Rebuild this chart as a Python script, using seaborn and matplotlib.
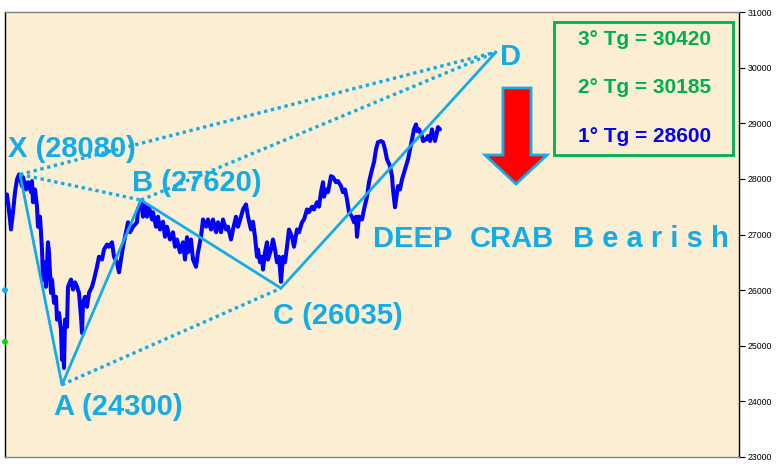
import matplotlib
matplotlib.use("Agg")
import matplotlib.pyplot as plt
import seaborn as sns
import pandas as pd
from matplotlib.patches import Polygon, Rectangle

# ---------------- data ----------------
days = [0, 2, 3, 5, 6, 8, 10, 12, 14, 17, 18, 21, 23, 26, 27, 28, 30, 32, 33, 35,
        37, 38, 39, 41, 43, 44, 46, 47, 49, 51, 52, 54, 56, 57, 58, 59, 60, 62, 63, 66,
        68, 70, 72, 74, 76, 77, 78, 80, 82, 84, 87, 89, 92, 94, 97, 99, 102, 104, 107, 109,
        112, 114, 116, 118, 121, 123, 125, 128, 132, 133, 136, 138, 140, 142, 144, 147, 148, 151, 153, 155,
        158, 160, 162, 165, 168, 170, 172, 175, 178, 180, 182, 183, 186, 188, 191, 193, 196, 198, 201, 203,
        206, 208, 211, 213, 216, 218, 221, 223, 226, 228, 231, 233, 236, 238, 241, 243, 246, 248, 250, 252,
        253, 255, 257, 258, 260, 262, 263, 266, 268, 270, 272, 274, 276, 278, 280, 282, 284, 287, 289, 292,
        294, 297, 299, 302, 304, 307, 309, 312, 314, 316, 318, 319, 321, 323, 326, 328, 331, 333, 336, 338,
        340, 342, 344, 347, 349, 351, 352, 354, 357, 359, 362, 364, 367, 369, 371, 373, 376, 378, 380, 382,
        385, 387, 388, 390, 392, 393, 395, 397, 398, 401, 403, 405, 407, 409, 411, 412, 414, 417, 418, 421,
        423, 425, 427, 428, 430, 432, 433, 435]
prices = [27630, 27720, 27580, 27270, 27090, 27400, 27760, 27990, 28080, 27870, 28030, 27810, 27940, 27760, 27960, 27580, 27810, 27500, 27140, 27320,
          26730, 26190, 26500, 26060, 26860, 26680, 25950, 26190, 25770, 25880, 25470, 25590, 25290, 24750, 24980, 24600, 25470, 25340, 26060, 26190,
          26010, 26140, 26060, 25950, 25520, 25230, 25770, 25880, 25700, 25950, 26060, 26190, 26420, 26600, 26550, 26730, 26820, 26780, 26860, 26600,
          26500, 26320, 26550, 26780, 27040, 27220, 27040, 27140, 27220, 27450, 27580, 27320, 27540, 27320, 27490, 27270, 27400, 27140, 27320, 27090,
          27230, 26960, 27140, 26910, 27040, 26780, 26910, 26680, 26860, 26550, 26950, 26680, 26910, 26550, 26420, 26680, 26960, 27270, 27140, 27270,
          27090, 27270, 27040, 27220, 27040, 27270, 27090, 27140, 26910, 27090, 27320, 27140, 27320, 27450, 27540, 27320, 27090, 27230, 26960, 26600,
          26730, 26500, 26600, 26370, 26680, 26860, 26550, 26730, 26910, 26730, 26500, 26600, 26150, 26600, 26500, 26780, 27090, 26960, 26780, 27090,
          27040, 27220, 27270, 27450, 27400, 27500, 27450, 27580, 27500, 27760, 27940, 27680, 27810, 27760, 28050, 28030, 27940, 27960, 27870, 27760,
          27810, 27630, 27400, 27320, 27220, 27320, 26960, 27320, 27270, 27450, 27680, 27940, 28170, 28300, 28530, 28660, 28680, 28660, 28530, 28350,
          28230, 28050, 27810, 27490, 27760, 27870, 27810, 27990, 28050, 28230, 28350, 28530, 28710, 28890, 28980, 28860, 28890, 28770, 28680, 28710,
          28770, 28680, 28890, 28800, 28680, 28840, 28930, 28890]

pattern_labels = ["X (28080)", "A (24300)", "B (27620)", "C (26035)", "D"]
pattern_days = [15, 57, 136, 276, 491]
pattern_values = [28080, 24300, 27620, 26035, 30280]

targets = ["3° Tg = 30420", "2° Tg = 30185", "1° Tg = 28600"]
title_words = ["DEEP", "CRAB", "B e a r i s h"]
yticks = [23000, 24000, 25000, 26000, 27000, 28000, 29000, 30000, 31000]
marker_values = [26000, 25070]

# ---------------- style ----------------
W, H = 778, 467
CYAN = "#12ACE8"
GREEN = "#00B050"
BLUE = "#0000FF"
BG = "#FCEED3"

sns.set_theme(style="white")
plt.rcParams["font.family"] = ["Liberation Sans", "DejaVu Sans"]

fig = plt.figure(figsize=(W / 100, H / 100), dpi=100)
fig.patch.set_facecolor("white")
ax = fig.add_axes([5 / W, 10 / H, 734 / W, 445 / H])
ax.set_facecolor(BG)

df = pd.DataFrame({"day": days, "price": prices})
sns.lineplot(data=df, x="day", y="price", ax=ax, color=BLUE, linewidth=2.9,
             estimator=None, sort=False, zorder=3)

# solid harmonic legs
pat = pd.DataFrame({"day": pattern_days, "value": pattern_values})
sns.lineplot(data=pat, x="day", y="value", ax=ax, color=CYAN, linewidth=2.0,
             estimator=None, sort=False, zorder=4)

# dotted connectors
pairs = [(0, 4), (0, 2), (2, 4), (1, 3)]
for i, j in pairs:
    ax.plot([pattern_days[i], pattern_days[j]], [pattern_values[i], pattern_values[j]],
            color=CYAN, linewidth=2.4, linestyle=(0, (1, 1.1)), zorder=4)

# labels
offsets = [(52, 25), (56, -22), (56, 17), (57, -28), (14, -5)]
for lab, d, v, off in zip(pattern_labels, pattern_days, pattern_values, offsets):
    ax.annotate(lab, (d, v), xytext=off, textcoords="offset pixels", ha="center",
                va="center", fontsize=21, fontweight="bold", color=CYAN, zorder=6)

ax.set_xlim(0, 734)
ax.set_ylim(23000, 31000)
ax.set_xticks([])
ax.set_xlabel("")
ax.set_ylabel("")
ax.yaxis.tick_right()
ax.set_yticks(yticks)
ax.set_yticklabels([str(t) for t in yticks])
ax.tick_params(axis="y", which="both", right=True, left=False, direction="out",
               length=4, width=0.8, color="black", labelsize=6.3, pad=2, labelcolor="black")
for s in ["top", "bottom"]:
    ax.spines[s].set_color("#808080")
    ax.spines[s].set_linewidth(1)
for s in ["left", "right"]:
    ax.spines[s].set_color("black")
    ax.spines[s].set_linewidth(1)
    ax.spines[s].set_visible(True)

# small markers on left axis
ax.scatter([0, 0], marker_values, c=[CYAN, "#00DD00"], s=18, clip_on=False, zorder=7,
           linewidths=0)


def px(x, y):
    return (x / W, 1 - y / H)


# target box
bx0, by0 = px(554, 155)
bx1, by1 = px(733, 22)
fig.patches.append(Rectangle((bx0, by0), bx1 - bx0, by1 - by0, transform=fig.transFigure,
                             fill=False, edgecolor=GREEN, linewidth=2, zorder=8))
t_colors = [GREEN, GREEN, BLUE]
t_base = [45, 93, 142]
for t, c, yb in zip(targets, t_colors, t_base):
    fig.text(*px(645, yb), t, ha="center", va="baseline", fontsize=15,
             fontweight="bold", color=c)

# red arrow
arrow_pts = [(503, 88), (531, 88), (531, 155), (547, 155), (516, 184), (485, 155), (503, 155)]
fig.patches.append(Polygon([px(x, y) for x, y in arrow_pts], closed=True,
                           transform=fig.transFigure, facecolor="#FF0000",
                           edgecolor=CYAN, linewidth=2, zorder=8))

word_left = [373, 470, 573]
for wd, xl in zip(title_words, word_left):
    fig.text(*px(xl, 247), wd, ha="left", va="baseline", fontsize=21,
             fontweight="bold", color=CYAN)

fig.savefig("out.png", dpi=100)
